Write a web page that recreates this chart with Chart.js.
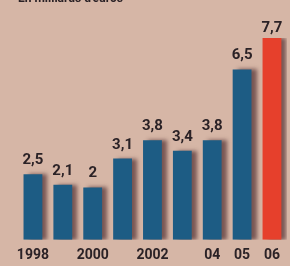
<!DOCTYPE html>
<html>
<head>
<meta charset="utf-8">
<script src="https://cdn.jsdelivr.net/npm/chart.js@4"></script>
<style>
  html, body { margin: 0; padding: 0; background: #d6b6a6; }
  #wrap { width: 290px; height: 266px; }
</style>
</head>
<body>
<div id="wrap"><canvas id="c"></canvas></div>
<script>
const years = ["1998", "1999", "2000", "2001", "2002", "2003", "2004", "2005", "2006"];
const tickLabels = ["1998", "", "2000", "", "2002", "", "04", "05", "06"];
const values = [2.5, 2.1, 2, 3.1, 3.8, 3.4, 3.8, 6.5, 7.7];
const subtitle = "En milliards d'euros";

const blue = "#1d5c84";
const red = "#e6402c";
const ink = "#2b2226";
const font = "Roboto, 'DejaVu Sans Condensed', sans-serif";

// dark smudge to the right of each bar, like the print
const shadowPlugin = {
    id: "shadow",
    beforeDatasetDraw: (chart) => {
        const ctx = chart.ctx;
        ctx.save();
        ctx.shadowColor = "rgba(70, 35, 40, 0.65)";
        ctx.shadowOffsetX = 5;
        ctx.shadowOffsetY = 0;
        ctx.shadowBlur = 4;
    },
    afterDatasetDraw: (chart) => {
        chart.ctx.restore();
    }
};

const valueLabels = {
    id: "valueLabels",
    afterDatasetsDraw: (chart) => {
        const ctx = chart.ctx;
        const meta = chart.getDatasetMeta(0);
        ctx.save();
        ctx.fillStyle = ink;
        ctx.font = "bold 15px " + font;
        ctx.textAlign = "center";
        ctx.textBaseline = "alphabetic";
        meta.data.forEach((bar, i) => {
            const txt = String(values[i]).replace(".", ",");
            ctx.fillText(txt, bar.x, Math.max(bar.y - 10, 32));
        });
        // heading, cut off by the top edge of the scan
        ctx.textAlign = "left";
        ctx.font = "bold 12px " + font;
        ctx.fillText(subtitle, 18, 2);
        ctx.restore();
    }
};

new Chart(document.getElementById("c"), {
    type: "bar",
    data: {
        labels: years,
        datasets: [{
            data: values,
            backgroundColor: values.map((v, i) => i === values.length - 1 ? red : blue),
            borderWidth: 0,
            categoryPercentage: 1,
            barPercentage: 0.63
        }]
    },
    options: {
        responsive: true,
        maintainAspectRatio: false,
        animation: false,
        layout: { padding: { left: 18, right: 0, top: 38, bottom: -5 } },
        plugins: {
            legend: { display: false },
            tooltip: { enabled: false }
        },
        scales: {
            x: {
                grid: { display: false, drawTicks: false, tickLength: 0 },
                border: { display: false },
                ticks: {
                    autoSkip: false,
                    maxRotation: 0,
                    padding: 10,
                    color: ink,
                    font: { family: font, size: 14, weight: "bold", lineHeight: 0.8 },
                    callback: (v, i) => tickLabels[i]
                }
            },
            y: {
                display: false,
                min: 0,
                max: 7.7
            }
        }
    },
    plugins: [shadowPlugin, valueLabels]
});
</script>
</body>
</html>
